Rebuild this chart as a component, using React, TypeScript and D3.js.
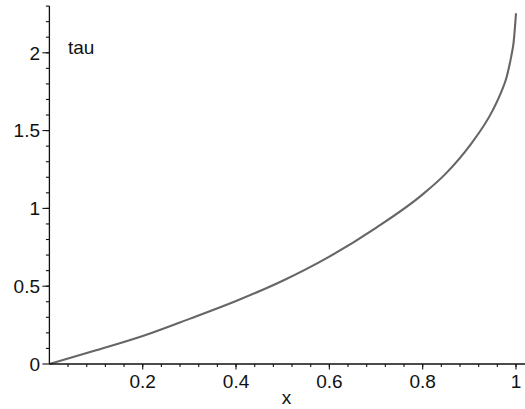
import React from "react";
import * as d3 from "d3";

// Sampled curve tau(x)
const xValues = [0, 0.1, 0.2, 0.3, 0.4, 0.5, 0.6, 0.7, 0.8, 0.85, 0.9, 0.95, 0.97, 0.98, 0.99, 0.995, 1.0];
const tauValues = [0, 0.088, 0.18, 0.29, 0.405, 0.535, 0.69, 0.875, 1.09, 1.225, 1.4, 1.63, 1.76, 1.845, 1.98, 2.07, 2.254];

const xTickValues = [0.2, 0.4, 0.6, 0.8, 1];
const xTickLabels = ["0.2", "0.4", "0.6", "0.8", "1"];
const yTickValues = [0, 0.5, 1, 1.5, 2];
const yTickLabels = ["0", "0.5", "1", "1.5", "2"];
const xMinorTicks = d3.range(0.04, 1.001, 0.04);
const yMinorTicks = d3.range(0.1, 2.301, 0.1);

const W = 525;
const H = 409;
const FONT = "'Liberation Sans', Arial, Helvetica, sans-serif";

export default function App() {
  const x = d3.scaleLinear().domain([0, 1]).range([49.4, 516]);
  const y = d3.scaleLinear().domain([0, 2.3]).range([364, 6.1]);

  const points: [number, number][] = xValues.map((v, i) => [v, tauValues[i]]);
  const line = d3
    .line<[number, number]>()
    .x((d) => x(d[0]))
    .y((d) => y(d[1]))
    .curve(d3.curveMonotoneX);

  const x0 = x(0);
  const y0 = y(0);

  return (
    <svg
      width={W}
      height={H}
      style={{ position: "absolute", left: 0, top: 0, background: "#fff" }}
      fontFamily={FONT}
    >
      {/* curve */}
      <path d={line(points) ?? ""} fill="none" stroke="#666" strokeWidth={2.1} />

      {/* axes */}
      <line x1={x0} x2={525} y1={y0} y2={y0} stroke="#111" strokeWidth={1.3} />
      <line x1={x0} x2={x0} y1={y0} y2={y(2.3)} stroke="#111" strokeWidth={1.3} />

      {/* x ticks */}
      {xMinorTicks.map((t, i) => (
        <line key={"xm" + i} x1={x(t)} x2={x(t)} y1={y0} y2={y0 + 3} stroke="#111" strokeWidth={1.1} />
      ))}
      {xTickValues.map((t, i) => (
        <g key={"xt" + i}>
          <line x1={x(t)} x2={x(t)} y1={y0} y2={y0 + 5.5} stroke="#111" strokeWidth={1.1} />
          <text x={x(t)} y={387.5} textAnchor="middle" fontSize={19} fill="#111">
            {xTickLabels[i]}
          </text>
        </g>
      ))}

      {/* y ticks */}
      {yMinorTicks.map((t, i) => (
        <line key={"ym" + i} x1={x0 - 3.5} x2={x0} y1={y(t)} y2={y(t)} stroke="#111" strokeWidth={1.1} />
      ))}
      {yTickValues.map((t, i) => (
        <g key={"yt" + i}>
          <line x1={x0 - 7} x2={x0} y1={y(t)} y2={y(t)} stroke="#111" strokeWidth={1.1} />
          <text x={40} y={y(t)} dy="0.36em" textAnchor="end" fontSize={19} fill="#111">
            {yTickLabels[i]}
          </text>
        </g>
      ))}

      {/* axis titles */}
      <text x={286.5} y={404} textAnchor="middle" fontSize={19} fill="#111">
        x
      </text>
      <text x={68} y={54} fontSize={19} fill="#111">
        tau
      </text>
    </svg>
  );
}
